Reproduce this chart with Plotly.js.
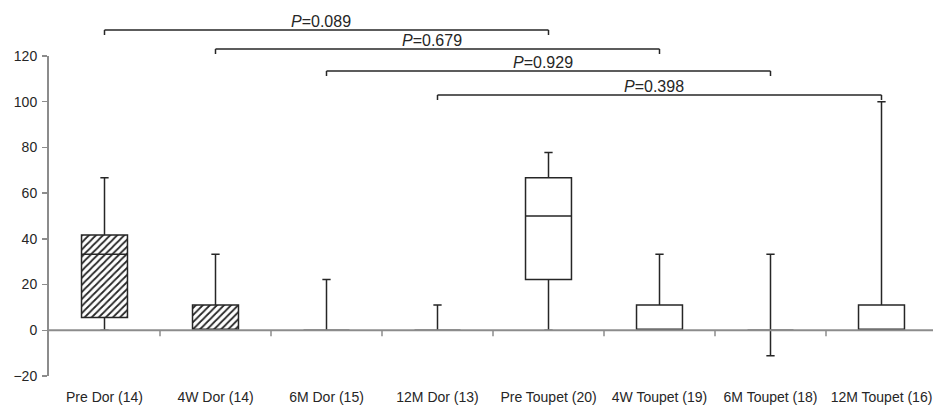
<!DOCTYPE html>
<html>
<head>
<meta charset="utf-8">
<script src="https://cdn.plot.ly/plotly-3.0.1.min.js"></script>
<style>html,body{margin:0;padding:0;background:#fff;}#chart{width:933px;height:410px;}</style>
</head>
<body>
<div id="chart"></div>
<script>
// ---- data ----
const categories = ['Pre Dor (14)', '4W Dor (14)', '6M Dor (15)', '12M Dor (13)',
                    'Pre Toupet (20)', '4W Toupet (19)', '6M Toupet (18)', '12M Toupet (16)'];
const lowerFence = [0, 0, 0, 0, 0, 0, -11.1, 0];
const q1Values   = [5.6, 0, 0, 0, 22.2, 0, 0, 0];
const medians    = [33.3, 0, 0, 0, 50, 0, 0, 0];
const q3Values   = [41.7, 11.1, 0, 0, 66.7, 11.1, 0, 11.1];
const upperFence = [66.7, 33.3, 22.2, 11.1, 77.8, 33.3, 33.3, 100];
const hatched    = [true, true, true, true, false, false, false, false];
const yTicks = [-20, 0, 20, 40, 60, 80, 100, 120];
const bracketFrom = [0, 1, 2, 3];
const bracketTo   = [4, 5, 6, 7];
const pValues = ['0.089', '0.679', '0.929', '0.398'];

// ---- styling ----
const ink = '#262626';
const axisGray = '#8c8c8c';
const fontFam = 'Liberation Sans, Arial, sans-serif';
const boxW = 0.414;
const bracketPix = [30, 49, 71, 95];
const plotTop = 56, plotBottom = 376;
const toPaper = p => (plotBottom - p) / (plotBottom - plotTop);

// hatched fill for Dor boxes (bars from q1 to q3)
const hx = [], hy = [], hb = [];
categories.forEach((c, i) => {
  if (hatched[i] && q3Values[i] > q1Values[i]) {
    hx.push(c); hb.push(q1Values[i]); hy.push(q3Values[i] - q1Values[i]);
  }
});

const traces = [
  {
    type: 'bar', x: hx, y: hy, base: hb, width: boxW,
    marker: { color: 'white', line: { width: 0 },
      pattern: { shape: '/', fgcolor: ink, bgcolor: 'white', size: 5, solidity: 0.35 } },
    hoverinfo: 'skip', showlegend: false
  },
  {
    type: 'box', x: categories,
    q1: q1Values, median: medians, q3: q3Values,
    lowerfence: lowerFence, upperfence: upperFence,
    width: boxW, whiskerwidth: 0.18,
    fillcolor: 'rgba(0,0,0,0)',
    line: { color: ink, width: 1.5 },
    boxpoints: false, hoverinfo: 'skip', showlegend: false
  }
];

const shapes = [];
const annotations = [];
// zero line (x axis) drawn above the marks
shapes.push({ type: 'line', xref: 'paper', yref: 'y', x0: 0, x1: 1, y0: 0, y1: 0,
  layer: 'above', line: { color: axisGray, width: 2 } });
// x-axis tick marks at category boundaries on the zero line
for (let i = 0; i < categories.length - 1; i++) {
  shapes.push({ type: 'line', xref: 'x', yref: 'y', x0: i + 0.5, x1: i + 0.5,
    ysizemode: 'pixel', yanchor: 0, y0: 0, y1: -6,
    line: { color: axisGray, width: 1.5 } });
}
// significance brackets
bracketFrom.forEach((a, k) => {
  const b = bracketTo[k];
  const yl = toPaper(bracketPix[k]);
  const yt = toPaper(bracketPix[k] + 5);
  const ln = { color: ink, width: 1.5 };
  shapes.push({ type: 'line', xref: 'x', yref: 'paper', x0: a, x1: b, y0: yl, y1: yl, line: ln });
  shapes.push({ type: 'line', xref: 'x', yref: 'paper', x0: a, x1: a, y0: yl, y1: yt, line: ln });
  shapes.push({ type: 'line', xref: 'x', yref: 'paper', x0: b, x1: b, y0: yl, y1: yt, line: ln });
  annotations.push({ xref: 'x', yref: 'paper', x: (a + b) / 2 - 0.05, y: yl,
    yanchor: 'bottom', xanchor: 'center', showarrow: false, yshift: -2,
    text: '<i>P</i>=' + pValues[k], font: { family: fontFam, size: 16, color: ink } });
});

const layout = {
  width: 933, height: 410,
  margin: { l: 49, r: 0, t: plotTop, b: 410 - plotBottom, pad: 0 },
  paper_bgcolor: 'white', plot_bgcolor: 'white',
  showlegend: false, hovermode: false, barmode: 'overlay',
  font: { family: fontFam, color: ink },
  xaxis: {
    type: 'category', range: [-0.5, 7.464], showgrid: false, zeroline: false,
    showline: false, ticks: 'outside', ticklen: 8, tickcolor: 'rgba(0,0,0,0)',
    tickfont: { family: fontFam, size: 14, color: ink }, automargin: false, fixedrange: true
  },
  yaxis: {
    range: [-20, 120], tickvals: yTicks, showgrid: false,
    zeroline: false,
    showline: true, linecolor: axisGray, linewidth: 2,
    ticks: 'outside', ticklen: 5, tickwidth: 1.5, tickcolor: axisGray,
    ticklabelstandoff: 2,
    tickfont: { family: fontFam, size: 14, color: ink }, automargin: false, fixedrange: true
  },
  shapes: shapes, annotations: annotations
};

Plotly.newPlot('chart', traces, layout, { staticPlot: true, displayModeBar: false });
</script>
</body>
</html>
